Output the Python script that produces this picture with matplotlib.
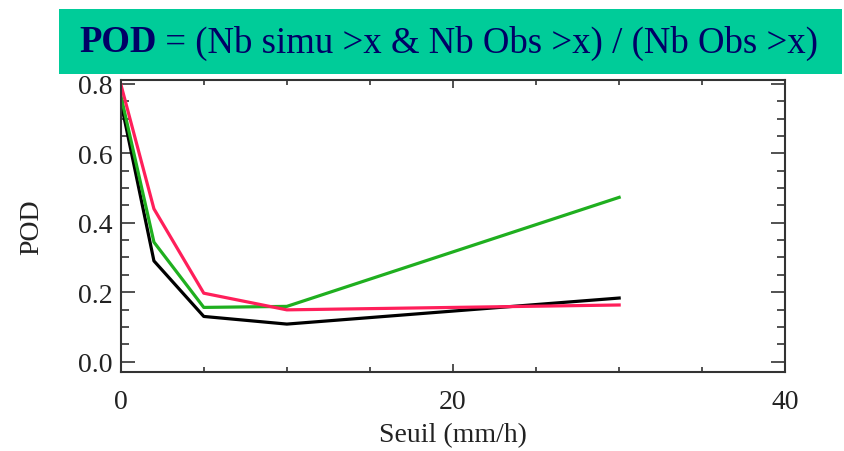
import numpy as np
import matplotlib.pyplot as plt
from matplotlib.patches import Rectangle
from matplotlib.ticker import MultipleLocator, FormatStrFormatter

# thresholds (mm/h) and POD values for the three curves
seuil = [0, 2, 5, 10, 30]
pod_black = [0.75, 0.29, 0.13, 0.108, 0.183]
pod_green = [0.768, 0.344, 0.156, 0.159, 0.473]
pod_red = [0.80, 0.44, 0.197, 0.149, 0.163]

plt.rcParams['font.family'] = ['Liberation Serif', 'DejaVu Serif']

fig = plt.figure(figsize=(8.44, 4.52), dpi=100)

# title banner
fig.patches.append(Rectangle((59 / 844, 1 - 75 / 452), (842 - 59) / 844, 65 / 452,
                             transform=fig.transFigure, facecolor='#00CC99',
                             edgecolor='none', zorder=0))
navy = '#000066'
t1 = fig.text(79 / 844, 1 - 43 / 452, 'POD', fontsize=26.5, fontweight='bold',
              color=navy, va='center', ha='left')
fig.canvas.draw()
bb = t1.get_window_extent()
fig.text(bb.x1 / 844, 1 - 43 / 452, ' = (Nb simu >x & Nb Obs >x) / (Nb Obs >x)',
         fontsize=26.5, color=navy, va='center', ha='left')

ax = fig.add_axes([120.7 / 844, 1 - 373 / 452, (785.3 - 120.7) / 844, (373 - 81) / 452])
ax.plot(seuil, pod_black, color='black', lw=2.3)
ax.plot(seuil, pod_green, color='#1FAF1F', lw=2.3)
ax.plot(seuil, pod_red, color='#FF1F5A', lw=2.3)

ax.set_xlim(0, 40)
ax.set_ylim(-0.03, 0.811)
ax.xaxis.set_major_locator(MultipleLocator(20))
ax.xaxis.set_minor_locator(MultipleLocator(5))
ax.yaxis.set_major_locator(MultipleLocator(0.2))
ax.yaxis.set_minor_locator(MultipleLocator(0.05))
ax.yaxis.set_major_formatter(FormatStrFormatter('%.1f'))

ax.tick_params(axis='both', which='both', direction='in', top=True, right=True,
               colors='#333333', labelcolor='#222222', labelsize=20, width=1.2)
ax.tick_params(axis='x', which='major', length=6, pad=12)
ax.tick_params(axis='x', which='minor', length=3.5)
ax.tick_params(axis='y', which='major', length=10, pad=6)
ax.tick_params(axis='y', which='minor', length=5.5)
for s in ax.spines.values():
    s.set_color('#333333')
    s.set_linewidth(1.5)

ax.set_xlabel('Seuil (mm/h)', fontsize=20, color='#222222', labelpad=6)
ax.set_ylabel('POD', fontsize=20, color='#222222', labelpad=24)

fig.savefig('out.png', dpi=100)
